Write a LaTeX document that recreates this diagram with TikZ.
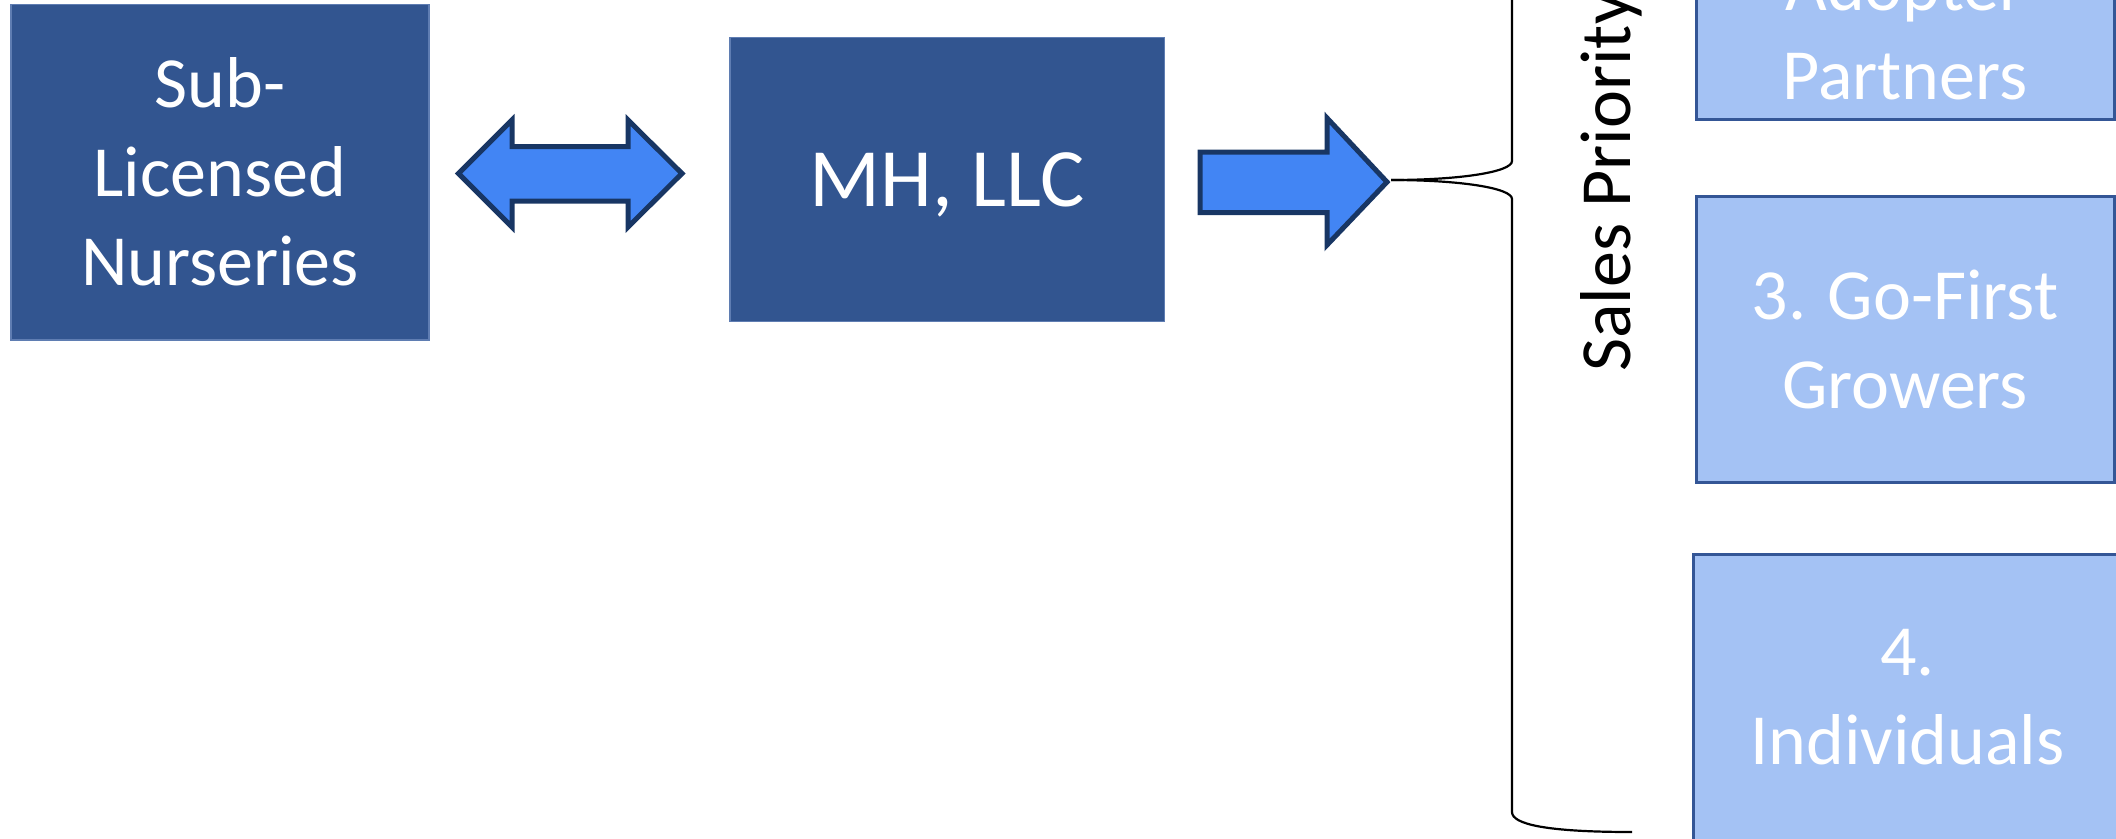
\documentclass[tikz,border=0pt]{standalone}
\usepackage{fontspec}
\setmainfont{Carlito}
\definecolor{darkbox}{RGB}{50,85,144}
\definecolor{darkedge}{RGB}{95,125,178}
\definecolor{lightbox}{RGB}{164,194,244}
\definecolor{lightedge}{RGB}{52,86,150}
\definecolor{arrowfill}{RGB}{66,133,244}
\definecolor{arrowedge}{RGB}{24,54,100}
\begin{document}
\begin{tikzpicture}[x=1pt,y=-1pt,
  darkstyle/.style={rectangle, fill=darkbox, draw=darkedge, line width=1.5pt, text=white, inner sep=0pt, align=center},
  lightstyle/.style={rectangle, fill=lightbox, draw=lightedge, line width=3pt, text=white, inner sep=0pt, align=center},
  arrowshape/.style={fill=arrowfill, draw=arrowedge, line width=5pt},
  bigtext/.style={font=\fontsize{72}{89}\selectfont},
  bracestyle/.style={draw=black, line width=2.2pt}]
\useasboundingbox (0,0) rectangle (2116,838);
\clip (0,0) rectangle (2116,838);

% boxes
\node[darkstyle, bigtext, minimum width=418.2pt, minimum height=335.7pt] (sub) at (219.9,172.2) {Sub-\\Licensed\\Nurseries};
\node[darkstyle, font=\fontsize{83}{99}\selectfont, text depth=0pt, minimum width=434.6pt, minimum height=283.6pt] (mh) at (947.2,179.5) {MH, LLC};

\node[lightstyle, bigtext, minimum width=418pt, minimum height=177pt] (p2) at (1905,30.5) {Adopter\\Partners};
\node[lightstyle, bigtext, minimum width=418pt, minimum height=286pt] (p3) at (1905,339) {3. Go-First\\Growers};
\node[lightstyle, bigtext, minimum width=429pt, minimum height=286pt] (p4) at (1907.5,697) {4.\\Individuals};

% label
\node[rotate=90, bigtext, anchor=base, inner sep=0pt] (sp) at (1630,182) {Sales Priority};

% double arrow between sub and mh
\draw[arrowshape] (458.5,173.5) -- (512,120) -- (512,146.5) -- (628,146.5) -- (628,120)
  -- (682,173.5) -- (628,227) -- (628,201) -- (512,201) -- (512,227) -- cycle;

% single arrow from mh to the brace
\draw[arrowshape] (1200,152) -- (1327,152) -- (1327,118) -- (1387,182) -- (1327,245)
  -- (1327,212.5) -- (1200,212.5) -- cycle;

\coordinate (tip) at (1391,180);
\coordinate (bracetop) at (1512,-400);
\coordinate (braceend) at (1632,832);

% brace
\draw[bracestyle] (tip) .. controls (1460,180) and (1512,172) .. (1512,161) -- (bracetop);
\draw[bracestyle] (tip) .. controls (1460,180) and (1512,188) .. (1512,199) -- (1512,812)
  .. controls (1512,824) and (1545,832) .. (braceend);
\end{tikzpicture}
\end{document}
